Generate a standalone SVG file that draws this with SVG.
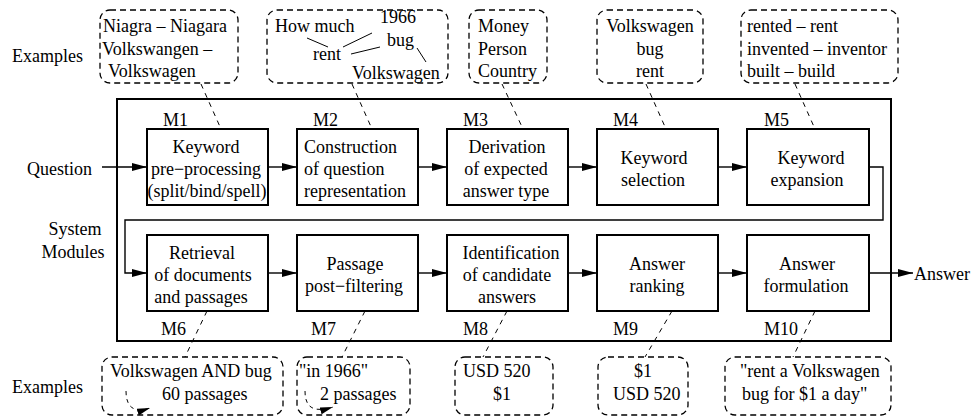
<svg xmlns="http://www.w3.org/2000/svg" width="972" height="417" viewBox="0 0 972 417">
<defs>
<style>
text{font-family:'Liberation Serif',Tinos,'DejaVu Serif',serif;font-size:18px;fill:#000}
.mid{text-anchor:middle}
.box{fill:#fff;stroke:#000;stroke-width:2}
.frame{fill:none;stroke:#000;stroke-width:2}
.ex{fill:none;stroke:#000;stroke-width:1.3;stroke-dasharray:6 4}
.conn{fill:none;stroke:#000;stroke-width:1.4}
.dash{fill:none;stroke:#000;stroke-width:1;stroke-dasharray:5 5}
.lk{fill:none;stroke:#000;stroke-width:1}
</style>
<marker id="ah" markerUnits="userSpaceOnUse" markerWidth="16" markerHeight="10" refX="15" refY="4" orient="auto">
<path d="M0,0 L15,4 L0,8 z" fill="#000"/>
</marker>
<marker id="ahs" markerUnits="userSpaceOnUse" markerWidth="14" markerHeight="8" refX="13" refY="3.5" orient="auto">
<path d="M0,0 L13,3.5 L0,7 z" fill="#000"/>
</marker>
</defs>
<rect width="972" height="417" fill="#fff"/>
<g font-family="Liberation Serif, serif" font-size="18">

<g id="labels">
<text x="12" y="62">Examples</text>
<text x="12" y="393">Examples</text>
<text x="27" y="175">Question</text>
<text x="75" y="235" class="mid">System</text>
<text x="73" y="258" class="mid">Modules</text>
<text x="914" y="280">Answer</text>
</g>

<rect id="system-frame" class="frame" x="117" y="99" width="774" height="242"/>

<g id="connectors">
<path class="conn" d="M102,167 H147" marker-end="url(#ah)"/>
<path class="conn" d="M268,167 H297" marker-end="url(#ah)"/>
<path class="conn" d="M418,167 H447" marker-end="url(#ah)"/>
<path class="conn" d="M568,167 H597" marker-end="url(#ah)"/>
<path class="conn" d="M718,167 H747" marker-end="url(#ah)"/>
<path class="conn" d="M869,167 H883 V220 H125 V273 H147" marker-end="url(#ah)"/>
<path class="conn" d="M268,273 H297" marker-end="url(#ah)"/>
<path class="conn" d="M418,273 H447" marker-end="url(#ah)"/>
<path class="conn" d="M568,273 H597" marker-end="url(#ah)"/>
<path class="conn" d="M718,273 H747" marker-end="url(#ah)"/>
<path class="conn" d="M869,273 H913" marker-end="url(#ah)"/>
<path class="dash" d="M201,84 L221,129"/>
<path class="dash" d="M352,84 L372,129"/>
<path class="dash" d="M502,84 L523,129"/>
<path class="dash" d="M646,84 L666,129"/>
<path class="dash" d="M795,84 L815,129"/>
<path class="dash" d="M207,311 L185,357"/>
<path class="dash" d="M365,311 L342,357"/>
<path class="dash" d="M507,311 L483,357"/>
<path class="dash" d="M672,311 L645,357"/>
<path class="dash" d="M815,311 L793,357"/>
</g>

<g id="M1">
<rect class="box" x="147" y="129" width="121" height="76"/>
<text x="163" y="126">M1</text>
<text x="206" y="153" class="mid">Keyword</text>
<text x="206" y="175" class="mid">pre−processing</text>
<text x="207" y="197" class="mid">(split/bind/spell)</text>
</g>
<g id="M2">
<rect class="box" x="297" y="129" width="121" height="76"/>
<text x="313" y="126">M2</text>
<text x="304" y="153">Construction</text>
<text x="304" y="175">of question</text>
<text x="304" y="197">representation</text>
</g>
<g id="M3">
<rect class="box" x="447" y="129" width="121" height="76"/>
<text x="463" y="126">M3</text>
<text x="507" y="153" class="mid">Derivation</text>
<text x="506" y="175" class="mid">of expected</text>
<text x="506" y="197" class="mid">answer type</text>
</g>
<g id="M4">
<rect class="box" x="597" y="129" width="121" height="76"/>
<text x="613" y="126">M4</text>
<text x="654" y="164" class="mid">Keyword</text>
<text x="653" y="186" class="mid">selection</text>
</g>
<g id="M5">
<rect class="box" x="747" y="129" width="122" height="76"/>
<text x="764" y="126">M5</text>
<text x="811" y="164" class="mid">Keyword</text>
<text x="807" y="186" class="mid">expansion</text>
</g>
<g id="M6">
<rect class="box" x="147" y="235" width="121" height="76"/>
<text x="161" y="335">M6</text>
<text x="202" y="259" class="mid">Retrieval</text>
<text x="203" y="281" class="mid">of documents</text>
<text x="201" y="303" class="mid">and passages</text>
</g>
<g id="M7">
<rect class="box" x="297" y="235" width="121" height="76"/>
<text x="311" y="335">M7</text>
<text x="355" y="270" class="mid">Passage</text>
<text x="354" y="292" class="mid">post−filtering</text>
</g>
<g id="M8">
<rect class="box" x="447" y="235" width="121" height="76"/>
<text x="463" y="335">M8</text>
<text x="511" y="259" class="mid">Identification</text>
<text x="507" y="281" class="mid">of candidate</text>
<text x="507" y="303" class="mid">answers</text>
</g>
<g id="M9">
<rect class="box" x="597" y="235" width="121" height="76"/>
<text x="613" y="335">M9</text>
<text x="657" y="270" class="mid">Answer</text>
<text x="657" y="292" class="mid">ranking</text>
</g>
<g id="M10">
<rect class="box" x="747" y="235" width="122" height="76"/>
<text x="764" y="335">M10</text>
<text x="807" y="270" class="mid">Answer</text>
<text x="806" y="292" class="mid">formulation</text>
</g>

<g id="ex1">
<rect class="ex" x="100" y="10" width="138" height="73" rx="10"/>
<text x="103" y="32">Niagra – Niagara</text>
<text x="102" y="55">Volkswangen –</text>
<text x="108" y="77">Volkswagen</text>
</g>
<g id="ex2">
<rect class="ex" x="267" y="10" width="181" height="73" rx="10"/>
<text x="275" y="32">How much</text>
<text x="380" y="23">1966</text>
<text x="387" y="46">bug</text>
<text x="313" y="60">rent</text>
<text x="352" y="79">Volkswagen</text>
<path class="lk" d="M307,38 L328,47 M372,33 L343,47 M380,47 L351,54 M417,48 L426,62"/>
</g>
<g id="ex3">
<rect class="ex" x="469" y="10" width="78" height="73" rx="10"/>
<text x="478" y="32">Money</text>
<text x="478" y="55">Person</text>
<text x="478" y="77">Country</text>
</g>
<g id="ex4">
<rect class="ex" x="597" y="10" width="106" height="73" rx="10"/>
<text x="650" y="32" class="mid">Volkswagen</text>
<text x="650" y="55" class="mid">bug</text>
<text x="650" y="77" class="mid">rent</text>
</g>
<g id="ex5">
<rect class="ex" x="741" y="10" width="157" height="73" rx="10"/>
<text x="747" y="32">rented – rent</text>
<text x="747" y="55">invented – inventor</text>
<text x="747" y="77">built – build</text>
</g>

<g id="ex6">
<rect class="ex" x="102" y="357" width="181" height="58" rx="10"/>
<text x="110" y="377">Volkswagen AND bug</text>
<text x="162" y="400">60 passages</text>
<path class="dash" style="stroke-dasharray:4 4" d="M126,391 C126,405 132,414 150,408" marker-end="url(#ahs)"/>
</g>
<g id="ex7">
<rect class="ex" x="297" y="357" width="113" height="58" rx="10"/>
<text x="299" y="377">"in 1966"</text>
<text x="320" y="400">2 passages</text>
<path class="dash" style="stroke-dasharray:4 4" d="M305,391 C305,405 311,414 333,407" marker-end="url(#ahs)"/>
</g>
<g id="ex8">
<rect class="ex" x="455" y="357" width="98" height="58" rx="10"/>
<text x="463" y="377">USD 520</text>
<text x="502" y="400" class="mid">$1</text>
</g>
<g id="ex9">
<rect class="ex" x="598" y="357" width="90" height="58" rx="10"/>
<text x="643" y="377" class="mid">$1</text>
<text x="613" y="400">USD 520</text>
</g>
<g id="ex10">
<rect class="ex" x="725" y="357" width="166" height="58" rx="10"/>
<text x="740" y="377">"rent a Volkswagen</text>
<text x="742" y="400">bug for $1 a day"</text>
</g>
</g>
</svg>
